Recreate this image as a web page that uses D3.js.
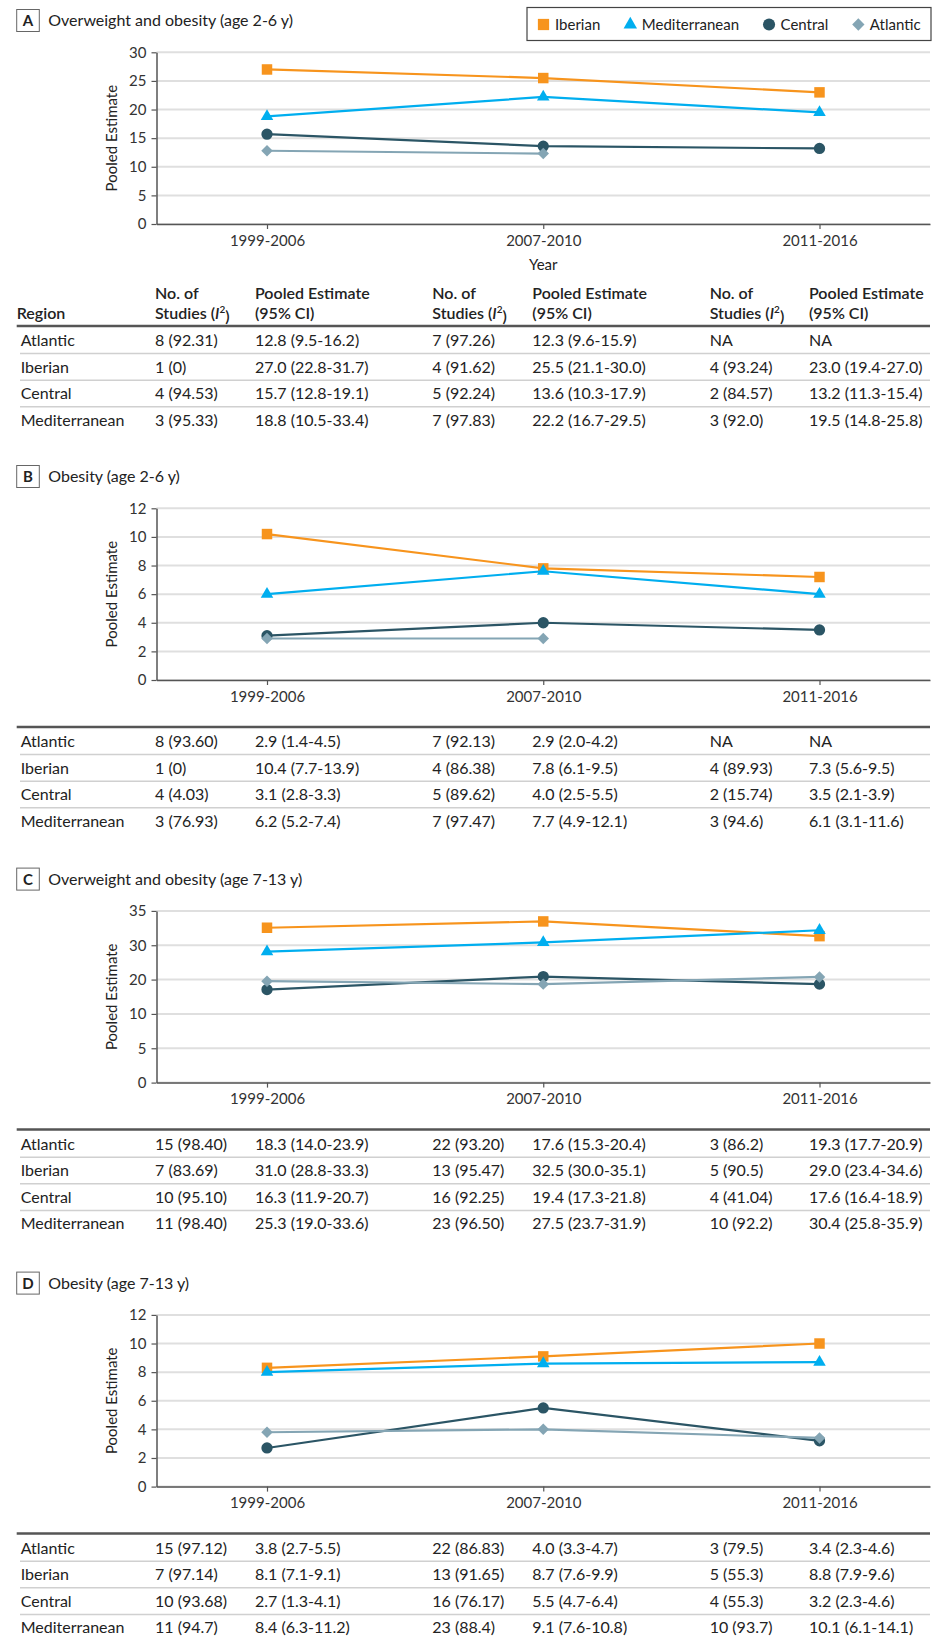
<!doctype html>
<html>
<head>
<meta charset="utf-8">
<script src="https://cdn.jsdelivr.net/npm/d3@7/dist/d3.min.js"></script>
<style>
  body { margin: 0; background: #fff; }
  svg { display: block; font-family: Lato, "Noto Sans", sans-serif; }
</style>
</head>
<body>
<svg id="chart" width="934" height="1648"></svg>
<script>
// ---- data ----
const periods = ["1999-2006", "2007-2010", "2011-2016"];
const regions = ["Iberian", "Mediterranean", "Central", "Atlantic"];
const colors = ["#f7941d", "#00aeef", "#2b5565", "#84a5b4"];

// plotted values, as drawn in each panel (null = NA)
const aIberian = [27.0, 25.5, 23.0];
const aMediterranean = [18.8, 22.2, 19.5];
const aCentral = [15.7, 13.6, 13.2];
const aAtlantic = [12.8, 12.3, null];

const bIberian = [10.2, 7.8, 7.2];
const bMediterranean = [6.0, 7.6, 6.0];
const bCentral = [3.1, 4.0, 3.5];
const bAtlantic = [2.9, 2.9, null];

const cIberian = [31.0, 32.5, 29.0];
const cMediterranean = [25.3, 27.5, 30.4];
const cCentral = [16.3, 19.4, 17.6];
const cAtlantic = [18.3, 17.6, 19.3];

const dIberian = [8.3, 9.1, 10.0];
const dMediterranean = [8.0, 8.6, 8.7];
const dCentral = [2.7, 5.5, 3.2];
const dAtlantic = [3.8, 4.0, 3.4];

const ticksA = [0, 5, 10, 15, 20, 25, 30];
const ticksB = [0, 2, 4, 6, 8, 10, 12];
const ticksC = ["0", "5", "10", "20", "30", "35"]; // printed evenly spaced
const ticksD = [0, 2, 4, 6, 8, 10, 12];

const tableRegions = ["Atlantic", "Iberian", "Central", "Mediterranean"];
const tableA = [
  ["8 (92.31)", "12.8 (9.5-16.2)", "7 (97.26)", "12.3 (9.6-15.9)", "NA", "NA"],
  ["1 (0)", "27.0 (22.8-31.7)", "4 (91.62)", "25.5 (21.1-30.0)", "4 (93.24)", "23.0 (19.4-27.0)"],
  ["4 (94.53)", "15.7 (12.8-19.1)", "5 (92.24)", "13.6 (10.3-17.9)", "2 (84.57)", "13.2 (11.3-15.4)"],
  ["3 (95.33)", "18.8 (10.5-33.4)", "7 (97.83)", "22.2 (16.7-29.5)", "3 (92.0)", "19.5 (14.8-25.8)"]
];
const tableB = [
  ["8 (93.60)", "2.9 (1.4-4.5)", "7 (92.13)", "2.9 (2.0-4.2)", "NA", "NA"],
  ["1 (0)", "10.4 (7.7-13.9)", "4 (86.38)", "7.8 (6.1-9.5)", "4 (89.93)", "7.3 (5.6-9.5)"],
  ["4 (4.03)", "3.1 (2.8-3.3)", "5 (89.62)", "4.0 (2.5-5.5)", "2 (15.74)", "3.5 (2.1-3.9)"],
  ["3 (76.93)", "6.2 (5.2-7.4)", "7 (97.47)", "7.7 (4.9-12.1)", "3 (94.6)", "6.1 (3.1-11.6)"]
];
const tableC = [
  ["15 (98.40)", "18.3 (14.0-23.9)", "22 (93.20)", "17.6 (15.3-20.4)", "3 (86.2)", "19.3 (17.7-20.9)"],
  ["7 (83.69)", "31.0 (28.8-33.3)", "13 (95.47)", "32.5 (30.0-35.1)", "5 (90.5)", "29.0 (23.4-34.6)"],
  ["10 (95.10)", "16.3 (11.9-20.7)", "16 (92.25)", "19.4 (17.3-21.8)", "4 (41.04)", "17.6 (16.4-18.9)"],
  ["11 (98.40)", "25.3 (19.0-33.6)", "23 (96.50)", "27.5 (23.7-31.9)", "10 (92.2)", "30.4 (25.8-35.9)"]
];
const tableD = [
  ["15 (97.12)", "3.8 (2.7-5.5)", "22 (86.83)", "4.0 (3.3-4.7)", "3 (79.5)", "3.4 (2.3-4.6)"],
  ["7 (97.14)", "8.1 (7.1-9.1)", "13 (91.65)", "8.7 (7.6-9.9)", "5 (55.3)", "8.8 (7.9-9.6)"],
  ["10 (93.68)", "2.7 (1.3-4.1)", "16 (76.17)", "5.5 (4.7-6.4)", "4 (55.3)", "3.2 (2.3-4.6)"],
  ["11 (94.7)", "8.4 (6.3-11.2)", "23 (88.4)", "9.1 (7.6-10.8)", "10 (93.7)", "10.1 (6.1-14.1)"]
];

// ---- layout ----
const svg = d3.select("#chart");
const plotLeft = 156.5, plotRight = 930, plotH = 171.7;
const colX = [20.7, 155, 255, 432.3, 532.3, 709.7, 809];
const textCol = "#222";

const xScale = d3.scalePoint().domain(periods).range([plotLeft, plotRight]).padding(0.4);

const panels = [
  { letter: "A", title: "Overweight and obesity (age 2-6 y)", y: 20.7,
    series: [aIberian, aMediterranean, aCentral, aAtlantic], ticks: ticksA, domain: [0, 30], table: tableA, header: true },
  { letter: "B", title: "Obesity (age 2-6 y)", y: 476.7,
    series: [bIberian, bMediterranean, bCentral, bAtlantic], ticks: ticksB, domain: [0, 12], table: tableB },
  { letter: "C", title: "Overweight and obesity (age 7-13 y)", y: 879.3,
    series: [cIberian, cMediterranean, cCentral, cAtlantic], ticks: ticksC, domain: [-5.8, 35], table: tableC, pointTicks: true },
  { letter: "D", title: "Obesity (age 7-13 y)", y: 1283.3,
    series: [dIberian, dMediterranean, dCentral, dAtlantic], ticks: ticksD, domain: [0, 12], table: tableD }
];

const symbols = [d3.symbolSquare, d3.symbolTriangle, d3.symbolCircle, d3.symbolSquare];
const symSizes = [110, 68, 100, 66];
const symRotate = [0, 0, 0, 45];

function marker(g, i, x, y, scale) {
  g.append("path")
    .attr("d", d3.symbol().type(symbols[i]).size(symSizes[i] * (scale || 1))())
    .attr("transform", `translate(${x},${y}) rotate(${symRotate[i]})`)
    .attr("fill", colors[i]);
}

panels.forEach(p => {
  const top = p.y + 31.6, bottom = top + plotH;
  const g = svg.append("g");

  // panel label + title
  g.append("rect").attr("x", 16.7).attr("y", p.y - 11.2).attr("width", 22.6).attr("height", 22)
    .attr("fill", "#fff").attr("stroke", "#666").attr("stroke-width", 1);
  g.append("text").attr("x", 28).attr("y", p.y).attr("dy", "0.36em").attr("text-anchor", "middle")
    .attr("font-size", 15).attr("font-weight", 700).attr("fill", textCol).text(p.letter);
  g.append("text").attr("x", 48.3).attr("y", p.y).attr("dy", "0.36em")
    .attr("font-size", 16).attr("fill", textCol).text(p.title);

  const yScale = d3.scaleLinear().domain(p.domain).range([bottom, top]);
  const tickScale = p.pointTicks
    ? d3.scalePoint().domain(p.ticks).range([bottom, top])
    : yScale;

  // gridlines
  g.selectAll("line.grid").data(p.ticks).enter().append("line")
    .attr("class", "grid")
    .attr("x1", plotLeft).attr("x2", plotRight)
    .attr("y1", d => tickScale(d)).attr("y2", d => tickScale(d))
    .attr("stroke", "#dfdfdf").attr("stroke-width", 2);

  // axes
  const yAxis = d3.axisLeft(tickScale).tickValues(p.ticks).tickSize(5).tickSizeOuter(0).tickPadding(5);
  const yg = g.append("g").attr("transform", `translate(${plotLeft},0)`).call(yAxis);
  const xAxis = d3.axisBottom(xScale).tickSize(5).tickSizeOuter(0).tickPadding(6);
  const xg = g.append("g").attr("transform", `translate(0,${bottom})`).call(xAxis);
  [yg, xg].forEach(a => {
    a.attr("font-family", null).attr("font-size", 15);
    a.select(".domain").attr("stroke", "#555").attr("stroke-width", 1.5);
    a.selectAll(".tick line").attr("stroke", "#555").attr("stroke-width", 1.2);
    a.selectAll(".tick text").attr("fill", "#333");
  });

  // y title
  g.append("text")
    .attr("transform", `translate(112,${(top + bottom) / 2}) rotate(-90)`)
    .attr("dy", "0.36em").attr("text-anchor", "middle")
    .attr("font-size", 15).attr("fill", textCol).text("Pooled Estimate");

  // series
  const line = d3.line().defined(d => d != null)
    .x((d, i) => xScale(periods[i])).y(d => yScale(d));
  p.series.forEach((vals, si) => {
    g.append("path").datum(vals).attr("d", line)
      .attr("fill", "none").attr("stroke", colors[si]).attr("stroke-width", 2.2);
    vals.forEach((v, i) => {
      if (v != null) marker(g, si, xScale(periods[i]), yScale(v));
    });
  });

  // table
  let lineY;
  if (p.header) {
    g.append("text").attr("x", (plotLeft + plotRight) / 2).attr("y", bottom + 41).attr("dy", "0.36em")
      .attr("text-anchor", "middle").attr("font-size", 15).attr("fill", textCol).text("Year");
    const h1 = bottom + 69, h2 = bottom + 89;
    const hd = g.append("g").attr("font-size", 16).attr("font-weight", 600).attr("fill", textCol);
    hd.append("text").attr("x", 16.7).attr("y", h2).attr("dy", "0.36em").text("Region");
    for (let k = 0; k < 3; k++) {
      hd.append("text").attr("x", colX[1 + 2 * k]).attr("y", h1).attr("dy", "0.36em").text("No. of");
      const t = hd.append("text").attr("x", colX[1 + 2 * k]).attr("y", h2).attr("dy", "0.36em");
      t.append("tspan").text("Studies (");
      t.append("tspan").attr("font-style", "italic").text("I");
      t.append("tspan").attr("font-size", 10).attr("dy", "-0.6em").text("2");
      t.append("tspan").attr("dy", "0.6em").text(")");
      hd.append("text").attr("x", colX[2 + 2 * k]).attr("y", h1).attr("dy", "0.36em").text("Pooled Estimate");
      hd.append("text").attr("x", colX[2 + 2 * k]).attr("y", h2).attr("dy", "0.36em").text("(95% CI)");
    }
    lineY = bottom + 102;
  } else {
    lineY = bottom + 47;
  }
  g.append("line").attr("x1", 16.7).attr("x2", plotRight).attr("y1", lineY).attr("y2", lineY)
    .attr("stroke", "#555").attr("stroke-width", 2.5);
  const rowPitch = 26.6;
  tableRegions.forEach((r, ri) => {
    const cy = lineY + 14.3 + ri * rowPitch;
    const cells = [r].concat(p.table[ri]);
    cells.forEach((c, ci) => {
      g.append("text").attr("x", colX[ci]).attr("y", cy).attr("dy", "0.36em")
        .attr("font-size", 16).attr("fill", textCol).text(c);
    });
    if (ri < tableRegions.length - 1) {
      g.append("line").attr("x1", 20).attr("x2", plotRight)
        .attr("y1", cy + 13.3).attr("y2", cy + 13.3)
        .attr("stroke", "#d0d0d0").attr("stroke-width", 1.5);
    }
  });
});

// legend
const lg = svg.append("g");
lg.append("rect").attr("x", 527).attr("y", 7.5).attr("width", 404).attr("height", 33)
  .attr("fill", "#fff").attr("stroke", "#444").attr("stroke-width", 1.2);
let lx = 538;
regions.forEach((r, i) => {
  marker(lg, i, lx + 5.5, 24.5, 1.15);
  const t = lg.append("text").attr("x", lx + 17).attr("y", 24.5).attr("dy", "0.36em")
    .attr("font-size", 15).attr("fill", textCol).text(r);
  lx += 17 + t.node().getComputedTextLength() + 24.5;
});
</script>
</body>
</html>
